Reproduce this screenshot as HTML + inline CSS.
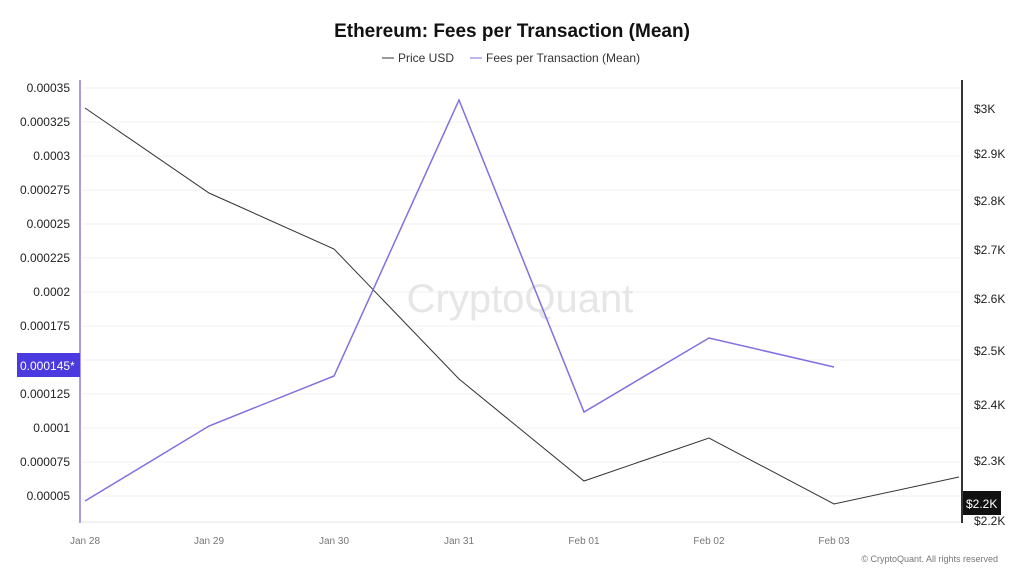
<!DOCTYPE html>
<html><head><style>
body{margin:0;background:#fff;font-family:"Liberation Sans",sans-serif}
</style></head><body>
<svg width="1024" height="576" xmlns="http://www.w3.org/2000/svg" font-family="Liberation Sans, sans-serif">
<rect width="1024" height="576" fill="#fff"/>
<text x="512" y="37" text-anchor="middle" font-size="19" font-weight="bold" fill="#111">Ethereum: Fees per Transaction (Mean)</text>
<line x1="382" y1="58" x2="394" y2="58" stroke="#333"/>
<text x="398" y="62" font-size="12" fill="#333">Price USD</text>
<line x1="470" y1="58" x2="482" y2="58" stroke="#7b6ae0"/>
<text x="486" y="62" font-size="12" fill="#333">Fees per Transaction (Mean)</text>
<g stroke="#f2f2f2">
<line x1="82" y1="88" x2="960" y2="88"/><line x1="82" y1="122" x2="960" y2="122"/><line x1="82" y1="156" x2="960" y2="156"/><line x1="82" y1="190" x2="960" y2="190"/><line x1="82" y1="224" x2="960" y2="224"/><line x1="82" y1="258" x2="960" y2="258"/><line x1="82" y1="292" x2="960" y2="292"/><line x1="82" y1="326" x2="960" y2="326"/><line x1="82" y1="360" x2="960" y2="360"/><line x1="82" y1="394" x2="960" y2="394"/><line x1="82" y1="428" x2="960" y2="428"/><line x1="82" y1="462" x2="960" y2="462"/><line x1="82" y1="496" x2="960" y2="496"/>
</g>
<line x1="82" y1="522" x2="960" y2="522" stroke="#e5e5e5"/>
<line x1="80" y1="80" x2="80" y2="523" stroke="#a99be8" stroke-width="2"/>
<line x1="962" y1="80" x2="962" y2="523" stroke="#333" stroke-width="2"/>
<g font-size="12" fill="#222" text-anchor="end">
<text x="70" y="92">0.00035</text><text x="70" y="126">0.000325</text><text x="70" y="160">0.0003</text><text x="70" y="194">0.000275</text><text x="70" y="228">0.00025</text><text x="70" y="262">0.000225</text><text x="70" y="296">0.0002</text><text x="70" y="330">0.000175</text><text x="70" y="398">0.000125</text><text x="70" y="432">0.0001</text><text x="70" y="466">0.000075</text><text x="70" y="500">0.00005</text>
</g>
<rect x="17" y="353" width="63" height="24" fill="#4b3ae0"/>
<text x="20" y="370" font-size="12" fill="#fff">0.000145*</text>
<g font-size="12" fill="#222">
<text x="974" y="113">$3K</text><text x="974" y="158">$2.9K</text><text x="974" y="205">$2.8K</text><text x="974" y="254">$2.7K</text><text x="974" y="303">$2.6K</text><text x="974" y="355">$2.5K</text><text x="974" y="409">$2.4K</text><text x="974" y="465">$2.3K</text><text x="974" y="525">$2.2K</text>
</g>
<rect x="963" y="491" width="38" height="24" fill="#111"/>
<text x="966" y="508" font-size="12" fill="#fff">$2.2K</text>
<g font-size="10" fill="#777" text-anchor="middle">
<text x="85" y="544">Jan 28</text><text x="209" y="544">Jan 29</text><text x="334" y="544">Jan 30</text><text x="459" y="544">Jan 31</text><text x="584" y="544">Feb 01</text><text x="709" y="544">Feb 02</text><text x="834" y="544">Feb 03</text>
</g>
<text x="998" y="562" font-size="9" fill="#777" text-anchor="end">© CryptoQuant. All rights reserved</text>
<text x="520" y="312" font-size="40" fill="#e6e6e6" text-anchor="middle">CryptoQuant</text>
<polyline fill="none" stroke="#333" stroke-width="1" points="85,108 209,193 334,249 459,379 584,481 709,438 834,504 959,477"/>
<polyline fill="none" stroke="#8170e0" stroke-width="1.5" points="85,501 209,426 334,376 459,100 584,412 709,338 834,367"/>
</svg>
</body></html>
